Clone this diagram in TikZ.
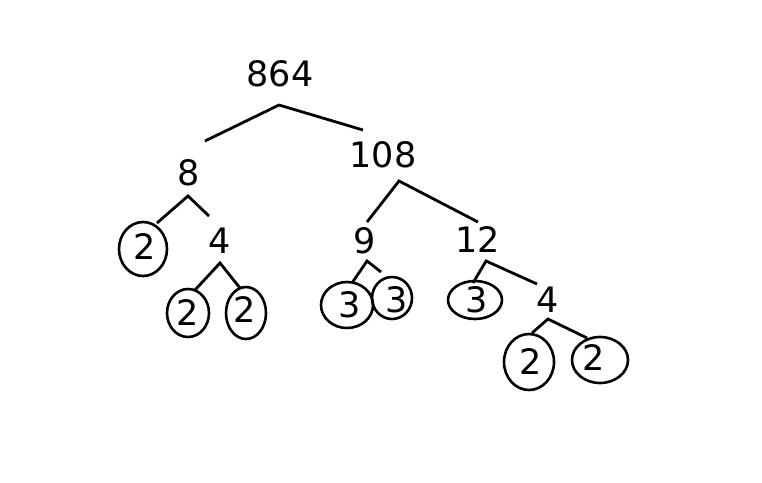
\documentclass[tikz,border=0pt]{standalone}
\usepackage{fontspec}
\setmainfont{DejaVu Sans}
\usetikzlibrary{shapes.geometric}
\begin{document}
\begin{tikzpicture}[x=1pt,y=-1pt,
  num/.style={inner sep=0pt,font=\fontsize{35}{40}\selectfont},
  ring/.style={draw,line width=2.6pt,ellipse,minimum width=2*#1},
  branch/.style={line width=2.8pt},
  oval/.style={draw,line width=2.6pt}]
\useasboundingbox (0,0) rectangle (762,482);
% numbers
\node[num] (n864) at (280,74) {864};
\node[num] (n108) at (383,155) {108};
\node[num] (n8) at (189,173) {8};
\node[num] (n4a) at (220,241) {4};
\node[num] (n9) at (365,241) {9};
\node[num] (n12) at (478,240) {12};
\node[num] (n4b) at (548,300) {4};
% circled leaves
\draw[oval] (143,249) ellipse [x radius=24, y radius=27];
\node[num] (l1) at (145,247) {2};
\draw[oval] (188,313) ellipse [x radius=21, y radius=24];
\node[num] (l2) at (188,313) {2};
\draw[oval] (246,313) ellipse [x radius=20, y radius=26];
\node[num] (l3) at (245,310) {2};
\draw[oval] (347,305) ellipse [x radius=26, y radius=23];
\node[num] (l4) at (350,305) {3};
\draw[oval] (392,298) ellipse [x radius=20, y radius=21];
\node[num] (l5) at (397,300) {3};
\draw[oval] (475,300) ellipse [x radius=27, y radius=19];
\node[num] (l6) at (477,300) {3};
\draw[oval] (529,362) ellipse [x radius=25, y radius=28];
\node[num] (l7) at (531,362) {2};
\draw[oval] (600,360) ellipse [x radius=28, y radius=23];
\node[num] (l8) at (594,358) {2};
% branch points
\coordinate (a864) at (279,105);
\coordinate (a864l) at (205,141);
\coordinate (a864r) at (363,130);
\coordinate (a8) at (188,196);
\coordinate (a8l) at (157,223);
\coordinate (a8r) at (209,216);
\coordinate (a4) at (220,263);
\coordinate (a4l) at (195,290);
\coordinate (a4r) at (240,288);
\coordinate (a108) at (399,181);
\coordinate (a108l) at (367,222);
\coordinate (a108r) at (478,222);
\coordinate (a9) at (367,261);
\coordinate (a9l) at (352,283);
\coordinate (a9r) at (381,272);
\coordinate (a12) at (486,261);
\coordinate (a12l) at (473,283);
\coordinate (a12r) at (537,284);
\coordinate (a4b) at (548,319);
\coordinate (a4bl) at (532,333);
\coordinate (a4br) at (587,338);
\draw[branch] (a864l) -- (a864) -- (a864r);
\draw[branch] (a8l) -- (a8) -- (a8r);
\draw[branch] (a4l) -- (a4) -- (a4r);
\draw[branch] (a108l) -- (a108) -- (a108r);
\draw[branch] (a9l) -- (a9) -- (a9r);
\draw[branch] (a12l) -- (a12) -- (a12r);
\draw[branch] (a4bl) -- (a4b) -- (a4br);
\end{tikzpicture}
\end{document}
